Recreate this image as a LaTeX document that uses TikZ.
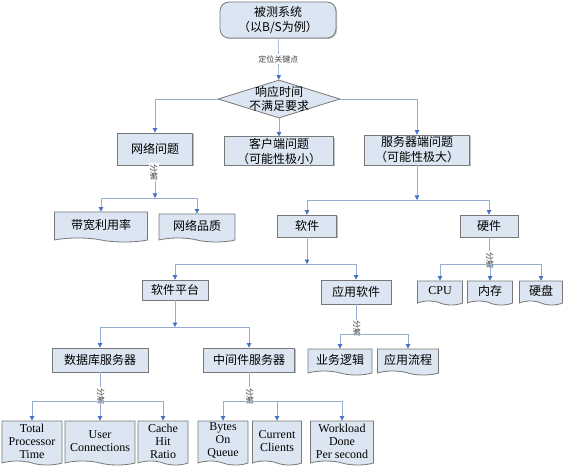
\documentclass[tikz,border=0pt]{standalone}
\usepackage{fontspec}
\setmainfont{Liberation Serif}
\newfontfamily\cjk{Noto Sans CJK SC}
\usetikzlibrary{positioning, shapes.geometric, shapes.symbols, arrows.meta, shadows}
\definecolor{boxfill}{RGB}{220,230,242}
\definecolor{boxline}{RGB}{120,120,120}
\definecolor{connline}{RGB}{150,172,208}
\definecolor{tipblue}{RGB}{68,114,196}

\begin{document}
\begin{tikzpicture}[
        x=1pt, y=-1pt,
        >={Triangle[width=4.5pt, length=4.5pt, color=tipblue]},
        box/.style={rectangle, draw=boxline, line width=0.8pt, fill=boxfill, inner sep=1pt, align=center,
            font=\cjk\fontsize{12}{15}\selectfont,
            drop shadow={shadow xshift=1pt, shadow yshift=-1pt, fill=gray!70, opacity=.7}},
        docbox/.style={tape, tape bend top=none, tape bend bottom=out and in, tape bend height=4pt,
            draw=boxline, line width=0.8pt, fill=boxfill, inner sep=1pt, align=center,
            font=\cjk\fontsize{12}{15}\selectfont},
        engbox/.style={docbox, font=\fontsize{12}{13}\selectfont},
        conn/.style={draw=connline, line width=0.7pt, ->},
        lbl/.style={font=\cjk\fontsize{8}{9}\selectfont, fill=white, inner sep=1pt, text=black!75},
        vlbl/.style={lbl, rotate=-90}
      ]
        \useasboundingbox (0,0) rectangle (564,470);

        % top of the tree
        \node[box, rounded corners=9pt, minimum width=116pt, minimum height=36pt] (sys) at (278,20)
            {被测系统\\（以B/S为例）};
        \node[diamond, draw=boxline, line width=0.8pt, fill=boxfill, inner sep=0pt, minimum width=122pt, minimum height=38pt,
            label={[font=\cjk\fontsize{12}{14}\selectfont, align=center]center:响应时间\\不满足要求}] (resp) at (279,99) {};

        % first level
        \node[box, minimum width=75pt, minimum height=32pt] (net) at (155,149) {网络问题};
        \node[box, minimum width=109pt, minimum height=28pt] (client) at (279,151) {客户端问题\\（可能性极小）};
        \node[box, minimum width=105pt, minimum height=30pt] (server) at (417,150) {服务器端问题\\（可能性极大）};

        % network
        \node[docbox, minimum width=93pt, minimum height=30pt] (bw) at (101,225) {带宽利用率};
        \node[docbox, minimum width=76pt, minimum height=28pt] (quality) at (197,226) {网络品质};

        % server side
        \node[box, minimum width=59pt, minimum height=22pt] (sw) at (307,226) {软件};
        \node[box, minimum width=58pt, minimum height=22pt] (hw) at (489,226) {硬件};
        \node[docbox, font=\fontsize{12}{13}\selectfont, minimum width=45pt, minimum height=24pt] (cpu) at (440,291) {CPU};
        \node[docbox, minimum width=45pt, minimum height=24pt] (mem) at (490,291) {内存};
        \node[docbox, minimum width=43pt, minimum height=24pt] (disk) at (541,291) {硬盘};

        % software
        \node[box, minimum width=66pt, minimum height=20pt] (plat) at (175,290) {软件平台};
        \node[box, minimum width=70pt, minimum height=24pt] (app) at (356,292) {应用软件};
        \node[box, minimum width=96pt, minimum height=24pt] (db) at (100,360) {数据库服务器};
        \node[box, minimum width=91pt, minimum height=24pt] (mid) at (249,360) {中间件服务器};
        \node[docbox, minimum width=64pt, minimum height=26pt] (biz) at (340,360) {业务逻辑};
        \node[docbox, minimum width=61pt, minimum height=26pt] (flow) at (408,360) {应用流程};

        % counters
        \node[engbox, minimum width=60pt, minimum height=44pt] (tpt) at (32,441) {Total\\Processor\\Time};
        \node[engbox, minimum width=70pt, minimum height=44pt] (uc) at (100,441) {User\\Connections};
        \node[engbox, minimum width=50pt, minimum height=44pt] (chr) at (163,441) {Cache\\Hit\\Ratio};
        \node[engbox, minimum width=50pt, minimum height=44pt] (boq) at (223,441) {Bytes\\On\\Queue};
        \node[engbox, minimum width=49pt, minimum height=44pt] (cc) at (277,441) {Current\\Clients};
        \node[engbox, minimum width=63pt, minimum height=44pt] (wd) at (342,441) {Workload\\Done\\Per second};

        % branch points
        \coordinate (j_net) at (155,198);
        \coordinate (j_server) at (417,200);
        \coordinate (j_hw) at (489,264);
        \coordinate (j_sw) at (307,264);
        \coordinate (j_plat) at (175,327);
        \coordinate (j_app) at (356,334);
        \coordinate (j_db) at (100,401);
        \coordinate (j_mid) at (249,401);

        % connectors
        \draw[conn] (sys) -- node[lbl] {定位关键点} (resp);
        \draw[conn] (resp.west) -| (net.north);
        \draw[conn] (resp.south) -- (client.north);
        \draw[conn] (resp.east) -| (server.north);

        \draw[conn] (net) -- node[vlbl, left=1pt, pos=0.5] {分解} (j_net);
        \draw[conn] (j_net) -| (bw.north);
        \draw[conn] (j_net) -| (quality.north);

        \draw[conn] (server) -- (j_server);
        \draw[conn] (j_server) -| (sw.north);
        \draw[conn] (j_server) -| (hw.north);

        \draw[conn] (hw) -- node[vlbl, right=1pt] {分解} (j_hw);
        \foreach \leaf in {cpu, mem, disk}
            \draw[conn] (j_hw) -| (\leaf.north);

        \draw[conn] (sw) -- (j_sw);
        \draw[conn] (j_sw) -| (plat.north);
        \draw[conn] (j_sw) -| (app.north);

        \draw[conn] (plat) -- (j_plat);
        \draw[conn] (j_plat) -| (db.north);
        \draw[conn] (j_plat) -| (mid.north);

        \draw[conn] (app) -- node[vlbl, right=1pt] {分解} (j_app);
        \draw[conn] (j_app) -| (biz.north);
        \draw[conn] (j_app) -| (flow.north);

        \draw[conn] (db) -- node[vlbl, right=1pt] {分解} (j_db);
        \foreach \leaf in {tpt, uc, chr}
            \draw[conn] (j_db) -| (\leaf.north);

        \draw[conn] (mid) -- node[vlbl, right=1pt] {分解} (j_mid);
        \foreach \leaf in {boq, cc, wd}
            \draw[conn] (j_mid) -| (\leaf.north);
    \end{tikzpicture}
\end{document}
